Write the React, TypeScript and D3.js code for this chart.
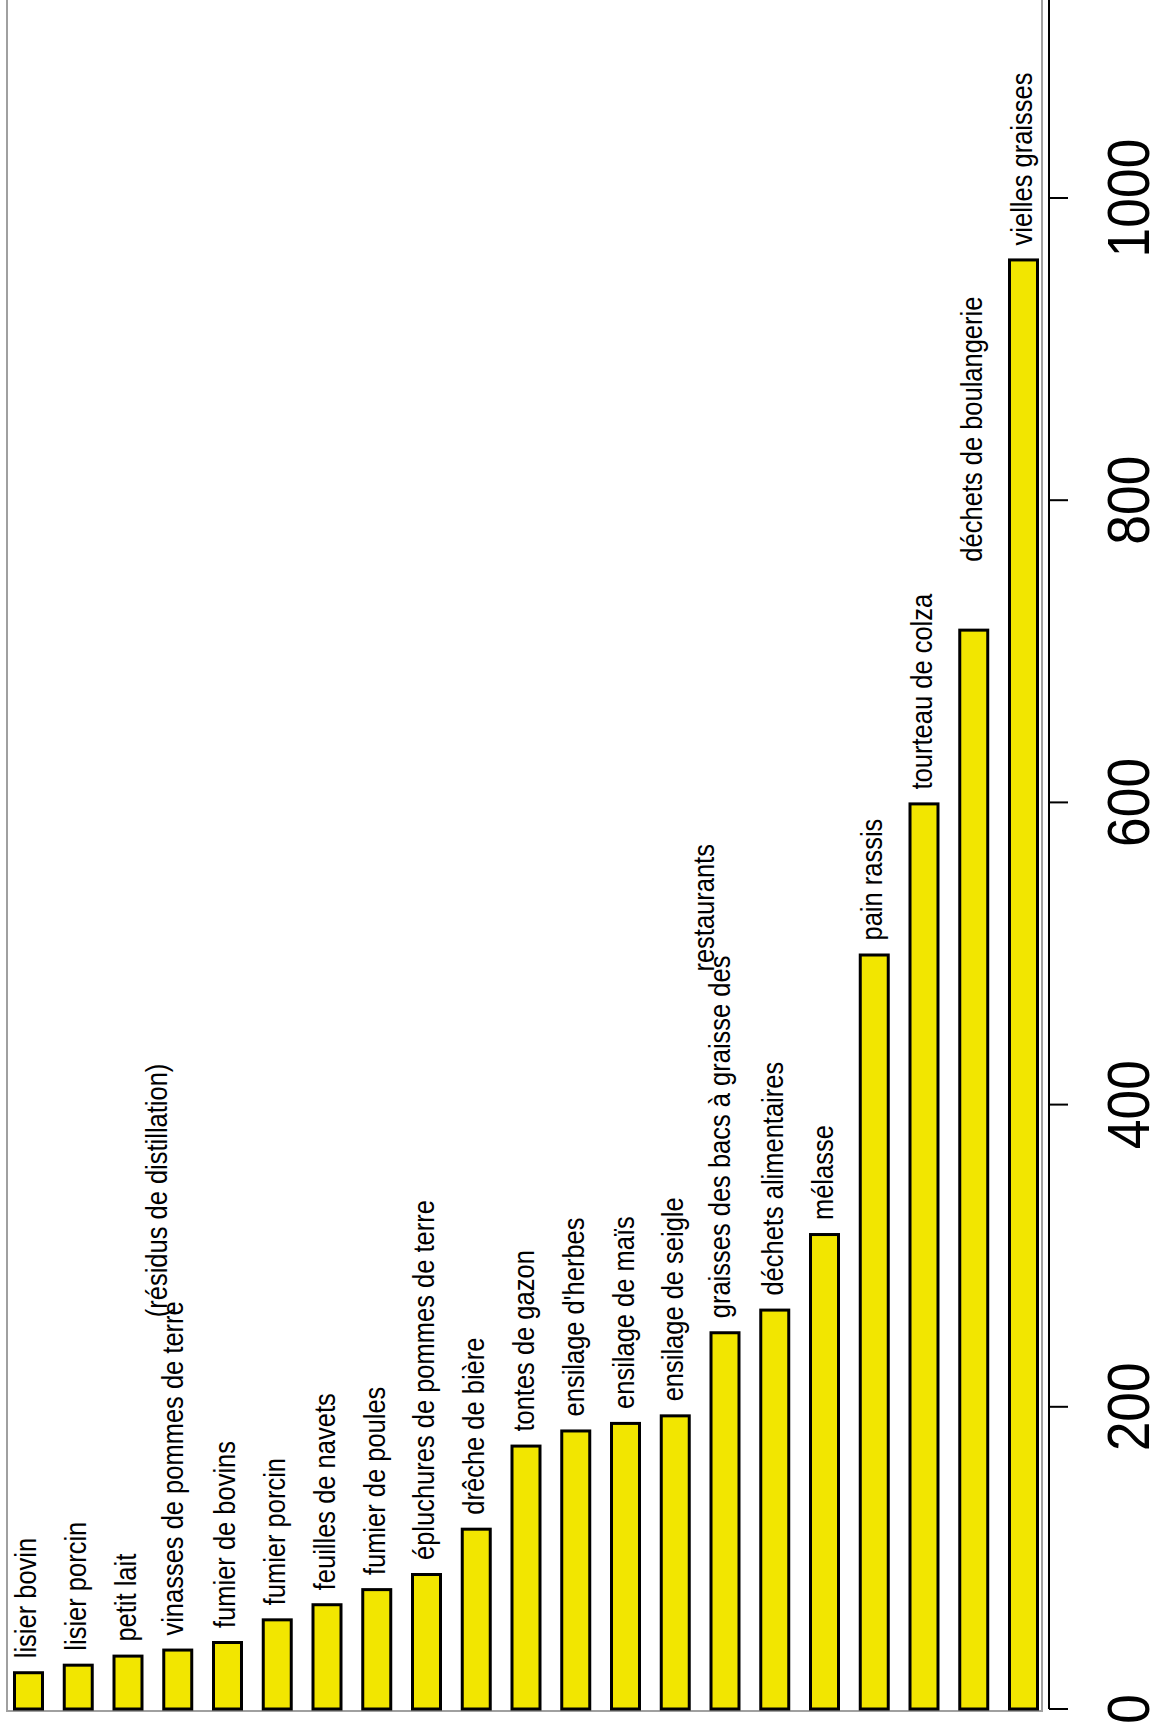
import React, { useEffect, useRef } from "react";
import * as d3 from "d3";

const categories: string[] = [
  "lisier bovin",
  "lisier porcin",
  "petit lait",
  "vinasses de pommes de terre\n(résidus de distillation)",
  "fumier de bovins",
  "fumier porcin",
  "feuilles de navets",
  "fumier de poules",
  "épluchures de pommes de terre",
  "drêche de bière",
  "tontes de gazon",
  "ensilage d'herbes",
  "ensilage de maïs",
  "ensilage de seigle",
  "graisses des bacs à graisse des\nrestaurants",
  "déchets alimentaires",
  "mélasse",
  "pain rassis",
  "tourteau de colza",
  "déchets de boulangerie",
  "vielles graisses",
];

const values: number[] = [
  25, 30, 36, 40, 45, 60, 70, 80, 90, 120, 175, 185, 190, 195, 250, 265, 315,
  500, 600, 715, 960,
];

const tickValues: number[] = [0, 200, 400, 600, 800, 1000];

// extra gap (px) between bar top and its label, by bar index (layout only)
const labelExtraGap: Record<number, number> = { 19: 54 };

const W = 1154;
const H = 1735;
const FONT = "'Liberation Sans', Arial, Helvetica, sans-serif";

export default function App() {
  const ref = useRef<SVGSVGElement | null>(null);

  useEffect(() => {
    const svg = d3.select(ref.current);
    svg.selectAll("*").remove();

    const idx = categories.map((_, i) => String(i));
    const x = d3
      .scaleBand<string>()
      .domain(idx)
      .range([13, 1039])
      .paddingInner(0.377)
      .paddingOuter(0);
    const y = d3.scaleLinear().domain([0, 1000]).range([1709, 198]);

    // gray frame
    svg
      .append("path")
      .attr("d", `M7,0 L7,1711 L1042,1711 L1042,0`)
      .attr("fill", "none")
      .attr("stroke", "#a0a0a0")
      .attr("stroke-width", 2);

    // bars
    const sw = 3;
    svg
      .append("g")
      .selectAll("rect")
      .data(values)
      .join("rect")
      .attr("x", (_, i) => (x(String(i)) as number) + sw / 2)
      .attr("width", x.bandwidth() - sw)
      .attr("y", (d) => y(d) + sw / 2)
      .attr("height", (d) => y(0) - y(d) - sw / 2)
      .attr("fill", "#f2e600")
      .attr("stroke", "#000")
      .attr("stroke-width", sw);

    // labels
    const lg = svg
      .append("g")
      .attr("font-family", FONT)
      .attr("font-size", 30)
      .attr("fill", "#000");
    categories.forEach((c, i) => {
      const lines = c.split("\n");
      const cx = (x(String(i)) as number) + x.bandwidth() / 2;
      const top = y(values[i]) - 13 - (labelExtraGap[i] || 0);
      const sx = 0.85;
      if (lines.length === 1) {
        lg.append("text")
          .attr("transform", `translate(${cx + 8},${top}) rotate(-90) scale(${sx},1)`)
          .text(lines[0]);
      } else {
        const t1 = lg
          .append("text")
          .attr("transform", `translate(${cx + 5},${top}) rotate(-90) scale(${sx},1)`)
          .text(lines[0]);
        const len = (t1.node() as SVGTextElement).getComputedTextLength() * sx;
        lg.append("text")
          .attr(
            "transform",
            `translate(${cx - 11},${top - len + 16}) rotate(-90) scale(${sx},1)`
          )
          .text(lines[1]);
      }
    });

    // axis
    const ag = svg.append("g");
    ag.append("line")
      .attr("x1", 1049)
      .attr("x2", 1049)
      .attr("y1", 0)
      .attr("y2", y(0))
      .attr("stroke", "#000")
      .attr("stroke-width", 2);
    ag.selectAll("line.tick")
      .data(tickValues)
      .join("line")
      .attr("class", "tick")
      .attr("x1", 1049)
      .attr("x2", 1068)
      .attr("y1", (d) => y(d))
      .attr("y2", (d) => y(d))
      .attr("stroke", "#000")
      .attr("stroke-width", 2);
    ag.selectAll("text")
      .data(tickValues)
      .join("text")
      .attr("transform", (d) => `translate(1149,${y(d)}) rotate(-90) scale(0.89,1)`)
      .attr("text-anchor", "middle")
      .attr("font-family", FONT)
      .attr("font-size", 60)
      .attr("fill", "#000")
      .text((d) => String(d));
  }, []);

  return (
    <svg
      ref={ref}
      width={W}
      height={H}
      style={{ position: "absolute", left: 0, top: 0, background: "#fff" }}
    />
  );
}
